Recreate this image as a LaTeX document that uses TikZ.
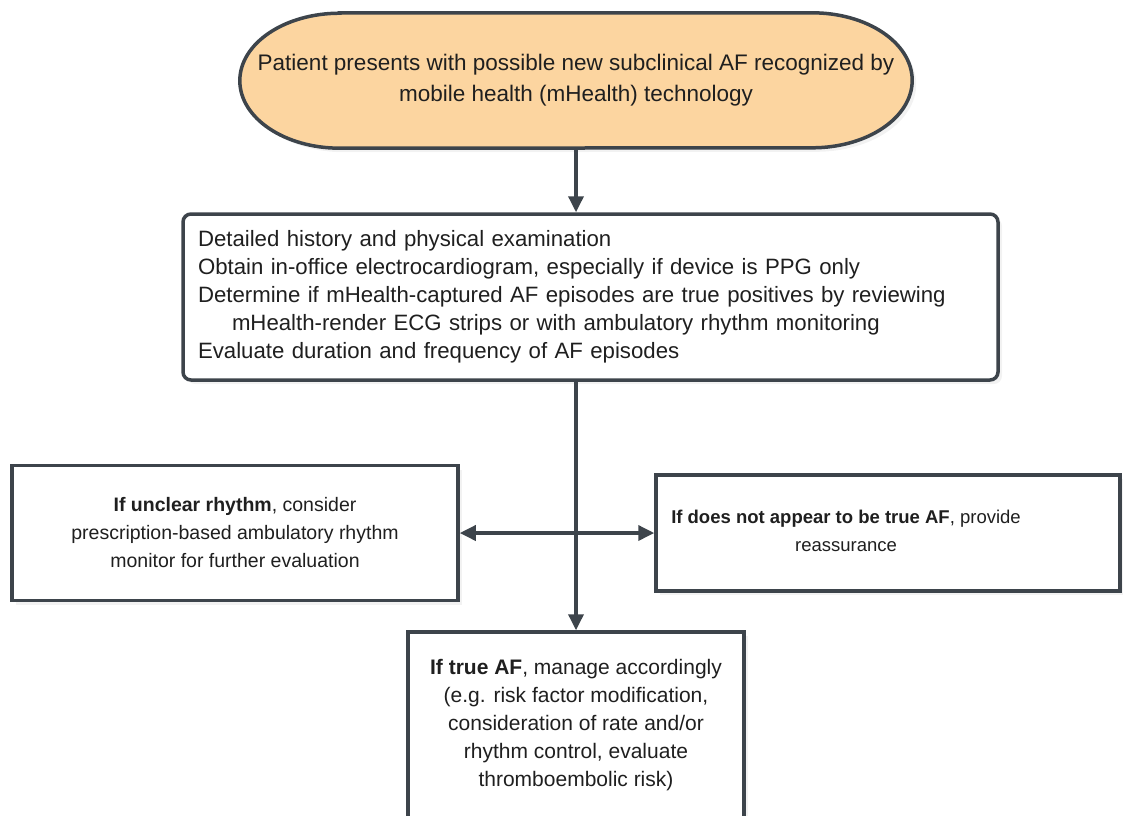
\documentclass[tikz,border=0pt]{standalone}
\usepackage{fontspec}
\setmainfont{Liberation Sans}
\usetikzlibrary{arrows.meta, shadows, backgrounds}
\definecolor{edge}{HTML}{3D444B}
\definecolor{peach}{HTML}{FCD5A0}

\begin{document}
\begin{tikzpicture}[x=1pt, y=1pt,
    txt/.style={font=\fontsize{#1}{28}\selectfont, text=black!88},
    box/.style={draw=edge, line width=3.5pt, fill=white,
        drop shadow={opacity=0.10, shadow xshift=4pt, shadow yshift=-4pt}},
    link/.style={draw=edge, line width=3.5pt, -{Triangle[length=16pt, width=15pt]}},
    twoway/.style={draw=edge, line width=3.5pt,
        {Triangle[length=16pt, width=15pt]}-{Triangle[length=16pt, width=15pt]}}]
    \useasboundingbox (0,0) rectangle (1123,-815);
    \clip (0,0) rectangle (1123,-815);

    % start terminal
    \node[txt=22.5, font=\fontsize{22.5}{31}\selectfont, align=center,
        minimum width=672, minimum height=135, inner sep=0pt] (start) at (576,-80.5)
        {Patient presents with possible new subclinical AF recognized by\\
         mobile health (mHealth) technology};
    \begin{pgfonlayer}{background}
        \path[draw=edge, line width=3.5pt, fill=peach,
            drop shadow={opacity=0.10, shadow xshift=4pt, shadow yshift=-4pt}]
            ([xshift=100pt]start.north west) -- ([xshift=-100pt]start.north east)
            arc[start angle=90, end angle=-90, x radius=100, y radius=67.5]
            -- ([xshift=100pt]start.south west)
            arc[start angle=270, end angle=90, x radius=100, y radius=67.5]
            -- cycle;
    \end{pgfonlayer}

    % work-up
    \node[box, txt=22.2, rounded corners=8pt, align=left, text width=785,
        inner xsep=15pt, minimum height=166] (workup) at (590.5,-297)
        {Detailed history and physical examination\\
         Obtain in-office electrocardiogram, especially if device is PPG only\\
         Determine if mHealth-captured AF episodes are true positives by reviewing\\
         \hspace*{34pt}mHealth-render ECG strips or with ambulatory rhythm monitoring\\
         Evaluate duration and frequency of AF episodes};

    % outcomes
    \node[box, txt=19.5, align=center, minimum width=446, minimum height=135]
        (unclear) at (235,-533)
        {\textbf{If unclear rhythm}, consider\\
         prescription-based ambulatory rhythm\\
         monitor for further evaluation};
    \node[box, minimum width=464, minimum height=116] (notaf) at (888,-533) {};
    \node[txt=18.5, align=center] (notaftext) at (846,-531)
        {\textbf{If does not appear to be true AF}, provide\\
         reassurance};
    \node[box, txt=21, align=center, minimum width=336, minimum height=186]
        (trueaf) at (576,-725)
        {\textbf{If true AF}, manage accordingly\\
         (e.g. risk factor modification,\\
         consideration of rate and/or\\
         rhythm control, evaluate\\
         thromboembolic risk)};

    \draw[link] (start.south) -- (start.south |- workup.north);
    \draw[link] (start.south |- workup.south) -- (trueaf.north);
    \draw[twoway] (unclear.east) -- (notaf.west);
\end{tikzpicture}
\end{document}
